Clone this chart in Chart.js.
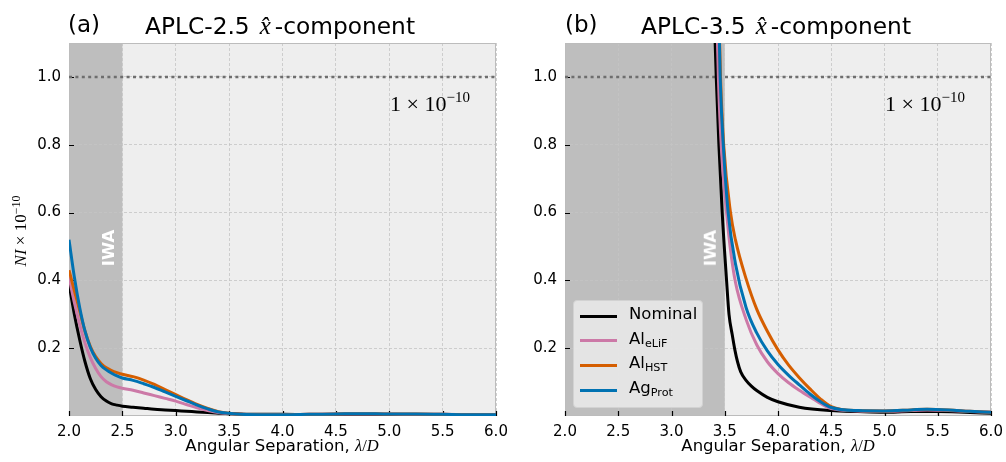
<!DOCTYPE html>
<html><head><meta charset="utf-8">
<script src="https://cdn.jsdelivr.net/npm/chart.js@4"></script>
<style>
html,body{margin:0;padding:0;background:#fff}
body{width:1006px;height:462px;overflow:hidden;position:relative;font-family:"DejaVu Sans",sans-serif;color:#000}
canvas{position:absolute;top:0}
.t{position:absolute;white-space:nowrap;line-height:1}
.serif{font-family:"Liberation Serif",serif}
.it{font-style:italic}
.hat{font-family:"Liberation Serif",serif;font-style:italic;font-size:25px;margin-left:10px;margin-right:4px}
.iwa{position:absolute;color:#fff;font-weight:bold;font-size:16.5px;transform:translate(-50%,-50%) rotate(-90deg);white-space:nowrap;line-height:1}
.leg{position:absolute;left:573px;top:300px;width:130px;height:108px;background:rgba(238,238,238,0.8);border:1px solid #d2d2d2;border-radius:4px;box-sizing:border-box}
.lrow{position:absolute;left:0;height:0}
.lline{position:absolute;left:6px;width:37px;height:3px;top:-1.5px}
.ltxt{position:absolute;left:55px;font-size:16.5px;top:-10px;line-height:1;white-space:nowrap}
.ltxt sub{font-size:11.2px;vertical-align:-3px;line-height:1}
</style></head><body>
<canvas id="ca" width="540" height="462" style="left:0"></canvas>
<canvas id="cb" width="503" height="462" style="left:503px"></canvas>

<div class="t" style="left:68px;top:13px;font-size:23px">(a)</div>
<div class="t" style="left:145px;top:13px;font-size:23.3px">APLC-2.5<span class="hat">x&#770;</span>-component</div>
<div class="t" style="left:565px;top:13px;font-size:23px">(b)</div>
<div class="t" style="left:641px;top:13px;font-size:23.3px">APLC-3.5<span class="hat">x&#770;</span>-component</div>

<div class="t serif" style="left:19px;top:231px;font-size:17px;transform:translate(-50%,-50%) rotate(-90deg)"><span class="it">NI</span> × 10<sup style="font-size:12px;vertical-align:6px">−10</sup></div>

<div class="t" style="left:282px;top:446px;font-size:16.5px;transform:translate(-50%,-50%)">Angular Separation, <span class="serif it">λ</span><span class="serif">/</span><span class="serif it">D</span></div>
<div class="t" style="left:778px;top:446px;font-size:16.5px;transform:translate(-50%,-50%)">Angular Separation, <span class="serif it">λ</span><span class="serif">/</span><span class="serif it">D</span></div>

<div class="t serif" style="left:390px;top:90px;font-size:22px">1 × 10<sup style="font-size:15px;vertical-align:9px">−10</sup></div>
<div class="t serif" style="left:885px;top:90px;font-size:22px">1 × 10<sup style="font-size:15px;vertical-align:9px">−10</sup></div>

<div class="iwa" style="left:108.5px;top:248px">IWA</div>
<div class="iwa" style="left:711px;top:248px">IWA</div>

<div class="leg" id="legend"></div>

<script>
// ---------- data ----------
const seriesLabels = ['Nominal', 'Al', 'Al', 'Ag'];
const seriesSubs   = ['', 'eLiF', 'HST', 'Prot'];
const seriesColors = ['#000000', '#CC79A7', '#D55E00', '#0072B2'];

const xTicks = [2.0, 2.5, 3.0, 3.5, 4.0, 4.5, 5.0, 5.5, 6.0];
const yTicks = [0.2, 0.4, 0.6, 0.8, 1.0];
const iwaLimits = [2.5, 3.5];
const contrastLevel = 1.0;

// panel (a): APLC-2.5
const leftX = [2.0,2.05,2.1,2.15,2.2,2.25,2.3,2.35,2.4,2.45,2.5,2.6,2.7,2.8,2.9,3.0,3.1,3.2,3.3,3.4,3.5,3.6,3.8,4.0,4.25,4.5,4.75,5.0,5.25,5.5,5.75,6.0];
const leftNominal = [0.39,0.30,0.225,0.16,0.11,0.078,0.057,0.044,0.036,0.032,0.029,0.026,0.023,0.020,0.018,0.016,0.014,0.012,0.010,0.008,0.007,0.006,0.005,0.005,0.004,0.004,0.004,0.004,0.004,0.004,0.004,0.004];
const leftAlEliF  = [0.41,0.335,0.27,0.215,0.172,0.14,0.116,0.101,0.092,0.086,0.082,0.076,0.068,0.060,0.052,0.044,0.034,0.024,0.016,0.010,0.007,0.005,0.004,0.004,0.005,0.006,0.006,0.006,0.005,0.005,0.004,0.004];
const leftAlHST   = [0.43,0.37,0.31,0.25,0.205,0.175,0.155,0.142,0.134,0.128,0.123,0.116,0.106,0.093,0.078,0.063,0.048,0.034,0.022,0.013,0.008,0.005,0.004,0.004,0.005,0.006,0.007,0.006,0.006,0.005,0.004,0.004];
const leftAgProt  = [0.52,0.41,0.32,0.25,0.202,0.17,0.149,0.136,0.126,0.118,0.112,0.105,0.095,0.084,0.071,0.058,0.045,0.032,0.021,0.012,0.008,0.005,0.004,0.004,0.005,0.006,0.007,0.006,0.006,0.005,0.004,0.004];

// panel (b): APLC-3.5
const rightNominalX = [3.39,3.41,3.42,3.445,3.476,3.517,3.54,3.57,3.595,3.62,3.65,3.70,3.75,3.8,3.9,4.0,4.2,4.5,4.75,5.0,5.25,5.5,5.75,6.0];
const rightNominal  = [1.25,1.1,1.0,0.8,0.6,0.4,0.3,0.24,0.195,0.16,0.13,0.105,0.088,0.075,0.055,0.042,0.026,0.016,0.013,0.011,0.013,0.013,0.011,0.008];
const rightAlEliFX = [3.42,3.44,3.47,3.517,3.55,3.6,3.7,3.8,3.9,4.0,4.1,4.2,4.3,4.4,4.5,4.75,5.0,5.25,5.4,5.6,5.8,6.0];
const rightAlEliF  = [1.25,1.0,0.78,0.6,0.5,0.395,0.285,0.21,0.16,0.125,0.098,0.076,0.056,0.037,0.022,0.015,0.014,0.016,0.018,0.016,0.013,0.011];
const rightAlHSTX = [3.44,3.46,3.49,3.554,3.6,3.7,3.8,3.9,4.0,4.1,4.2,4.3,4.4,4.5,4.75,5.0,5.25,5.4,5.6,5.8,6.0];
const rightAlHST  = [1.25,1.0,0.8,0.6,0.52,0.405,0.315,0.25,0.195,0.15,0.113,0.08,0.05,0.028,0.016,0.015,0.018,0.02,0.018,0.014,0.011];
const rightAgProtX = [3.44,3.457,3.49,3.532,3.6,3.7,3.8,3.9,4.0,4.1,4.2,4.3,4.4,4.5,4.75,5.0,5.25,5.4,5.6,5.8,6.0];
const rightAgProt  = [1.25,1.0,0.78,0.6,0.45,0.32,0.245,0.192,0.152,0.12,0.092,0.065,0.042,0.025,0.016,0.015,0.018,0.02,0.018,0.014,0.011];

// ---------- helpers ----------
const pts = (xs, ys) => xs.map((x, i) => ({x: x, y: ys[i]}));

function bgPlugin(iwa) {
  return {
    id: 'bg',
    beforeDraw(chart) {
      const {ctx, chartArea: a, scales} = chart;
      ctx.save();
      ctx.fillStyle = '#eeeeee';
      ctx.fillRect(a.left, a.top, a.right - a.left, a.bottom - a.top);
      const x0 = scales.x.getPixelForValue(scales.x.min);
      const x1 = scales.x.getPixelForValue(iwa);
      ctx.fillStyle = '#bebebe';
      ctx.fillRect(x0, a.top, x1 - x0, a.bottom - a.top);
      ctx.restore();
    },
    beforeDatasetsDraw(chart) {
      const {ctx, chartArea: a, scales} = chart;
      ctx.save();
      ctx.strokeStyle = '#bcbcbc';
      ctx.lineWidth = 1;
      ctx.strokeRect(a.left + 0.5, a.top + 0.5, a.right - a.left - 1, a.bottom - a.top - 1);
      // inward tick marks at the library's tick positions
      ctx.strokeStyle = '#000';
      ctx.lineWidth = 1.2;
      ctx.beginPath();
      scales.x.ticks.forEach(t => {
        const px = Math.round(scales.x.getPixelForValue(t.value)) + 0.5;
        ctx.moveTo(px, a.bottom);
        ctx.lineTo(px, a.bottom - 5);
      });
      scales.y.ticks.forEach(t => {
        const py = Math.round(scales.y.getPixelForValue(t.value)) + 0.5;
        ctx.moveTo(a.left, py);
        ctx.lineTo(a.left + 5, py);
      });
      ctx.stroke();
      ctx.restore();
    }
  };
}

function makeChart(id, data, iwa, area, cw) {
  const sets = data.map((d, i) => ({
    label: seriesLabels[i] + seriesSubs[i],
    data: d,
    borderColor: seriesColors[i],
    borderWidth: 3,
    pointRadius: 0,
    fill: false,
    cubicInterpolationMode: 'monotone',
    order: 4 - i,
    clip: 0
  }));
  sets.push({
    label: 'level',
    data: [{x: xTicks[0], y: contrastLevel}, {x: xTicks[xTicks.length - 1], y: contrastLevel}],
    borderColor: '#6e6e6e',
    borderWidth: 2.5,
    borderDash: [3, 3.4],
    pointRadius: 0,
    order: 10,
    clip: 0
  });
  return new Chart(document.getElementById(id), {
    type: 'line',
    data: {datasets: sets},
    options: {
      responsive: false,
      animation: false,
      events: [],
      layout: {padding: {left: 0, right: cw - area.right, top: area.top, bottom: 0}},
      plugins: {legend: {display: false}, tooltip: {enabled: false}},
      scales: {
        x: {
          type: 'linear', min: 2, max: 6,
          afterBuildTicks: s => { s.ticks = xTicks.map(v => ({value: v})); },
          afterFit: s => { s.height = 462 - area.bottom; s.paddingLeft = 0; s.paddingRight = 0; },
          ticks: {font: {family: 'DejaVu Sans', size: 15}, color: '#000', padding: 7, maxRotation: 0, autoSkip: false,
                  callback: v => Number(v).toFixed(1)},
          grid: {color: '#c4c4c4', lineWidth: 0.8, drawTicks: false},
          border: {display: false, dash: [3, 2]}
        },
        y: {
          type: 'linear', min: 0, max: 1.1,
          afterBuildTicks: s => { s.ticks = yTicks.map(v => ({value: v})); },
          afterFit: s => { s.width = area.left; s.paddingTop = 0; s.paddingBottom = 0; },
          ticks: {font: {family: 'DejaVu Sans', size: 15}, color: '#000', padding: 8,
                  callback: v => Number(v).toFixed(1)},
          grid: {color: '#c4c4c4', lineWidth: 0.8, drawTicks: false},
          border: {display: false, dash: [3, 2]}
        }
      }
    },
    plugins: [bgPlugin(iwa)]
  });
}

makeChart('ca', [pts(leftX, leftNominal), pts(leftX, leftAlEliF), pts(leftX, leftAlHST), pts(leftX, leftAgProt)],
          iwaLimits[0], {left: 69, right: 496, top: 43, bottom: 416}, 540);
makeChart('cb', [pts(rightNominalX, rightNominal), pts(rightAlEliFX, rightAlEliF), pts(rightAlHSTX, rightAlHST), pts(rightAgProtX, rightAgProt)],
          iwaLimits[1], {left: 62, right: 488, top: 43, bottom: 416}, 503);

// legend (HTML, built from series arrays)
const leg = document.getElementById('legend');
const rowY = [15, 39.5, 64, 89];
seriesLabels.forEach((lab, i) => {
  const r = document.createElement('div');
  r.className = 'lrow';
  r.style.top = rowY[i] + 'px';
  r.innerHTML = '<div class="lline" style="background:' + seriesColors[i] + '"></div>' +
    '<div class="ltxt">' + lab + (seriesSubs[i] ? '<sub>' + seriesSubs[i] + '</sub>' : '') + '</div>';
  leg.appendChild(r);
});
</script>
</body></html>
